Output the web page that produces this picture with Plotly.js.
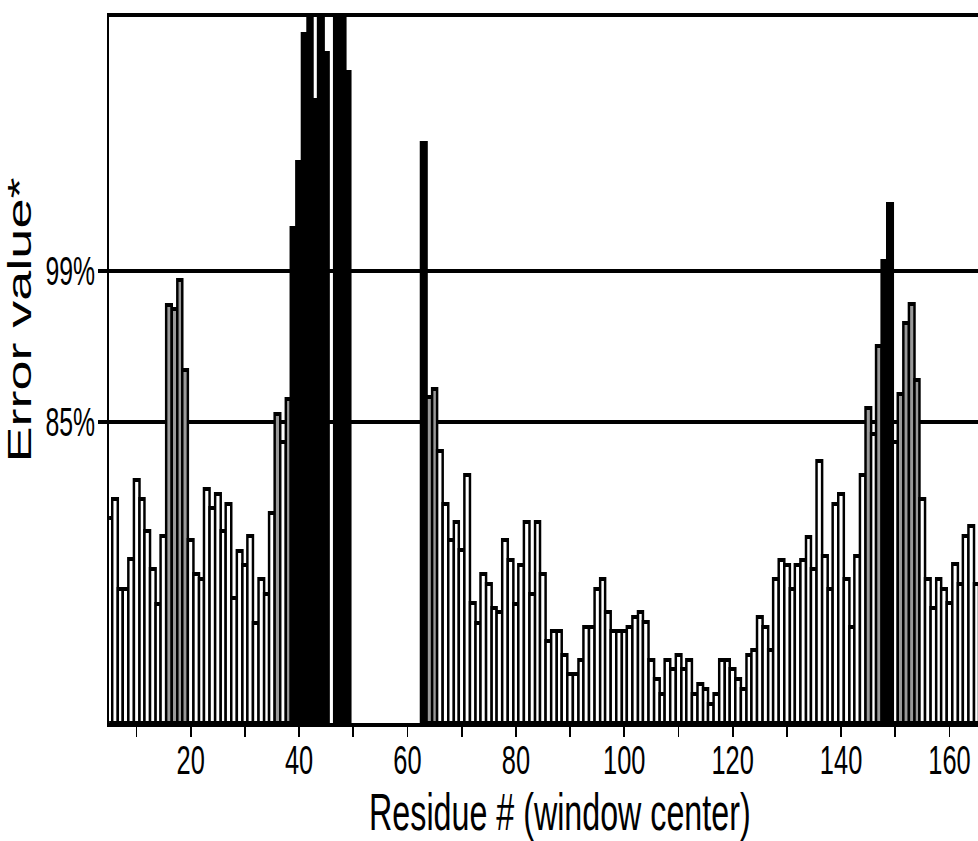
<!DOCTYPE html>
<html><head><meta charset="utf-8">
<script src="https://cdn.plot.ly/plotly-3.0.1.min.js"></script>
<style>
html,body{margin:0;padding:0;overflow:hidden;background:#fff;width:978px;height:841px;}
#chart{width:1630px;height:841px;transform:scaleX(0.62);transform-origin:0 0;}
</style></head><body><div id="chart"></div>
<script>
// Residue numbers (window centres)
const residues = [5,6,7,8,9,10,11,12,13,14,15,16,17,18,19,20,21,22,23,24,25,26,27,28,29,30,
31,32,33,34,35,36,37,38,39,40,41,42,43,44,45,46,47,48,49,50,51,52,53,54,55,56,57,58,59,60,
61,62,63,64,65,66,67,68,69,70,71,72,73,74,75,76,77,78,79,80,81,82,83,84,85,86,87,88,89,90,
91,92,93,94,95,96,97,98,99,100,101,102,103,104,105,106,107,108,109,110,111,112,113,114,115,
116,117,118,119,120,121,122,123,124,125,126,127,128,129,130,131,132,133,134,135,136,137,138,
139,140,141,142,143,144,145,146,147,148,149,150,151,152,153,154,155,156,157,158,159,160,161,
162,163,164,165];

// Error value (arbitrary units; bars above the frame are clipped)
const errorValue = [205,224,134,134,164,243,224,192,154,119,187,
418,414,443,353,
183,149,144,234,215,229,192,219,125,172,158,187,100,144,129,210,
309,281,324,
495,561,689,760,623,760,670,null,760,760,651,
null,null,null,null,null,null,null,null,null,null,null,null,null,
580,326,334,
272,219,183,201,173,248,120,100,149,139,115,111,183,163,119,158,201,129,201,149,
82,92,92,68,49,49,63,96,96,134,144,111,92,92,92,96,106,111,101,63,44,
29,63,54,68,54,63,29,39,34,19,29,63,63,54,44,34,68,73,106,96,73,
144,163,158,134,158,163,186,154,262,167,134,219,229,144,96,167,248,
315,289,377,462,519,281,329,400,419,343,
224,144,115,144,134,120,159,139,187,197,139];

// Significance class of each window: w = below, g = intermediate, b = highest (run lengths)
const significanceRuns = [['w',11],['g',4],['w',16],['g',1],['w',1],['g',1],['b',11],['w',13],
['b',1],['g',2],['w',79],['g',1],['w',1],['g',1],['b',2],['w',1],['g',4],['w',11]];

// Threshold lines on the y axis
const thresholdValues = [301, 452.5];
const thresholdLabels = ['85%', '99%'];

// x ticks
const xTickVals = [10,20,30,40,50,60,70,80,90,100,110,120,130,140,150,160,170];
const xTickText = ['','20','','40','','60','','80','','100','','120','','140','','160',''];

const fillFor = {w:'#ffffff', g:'#999999', b:'#000000'};
const significance = [];
significanceRuns.forEach(([c,n]) => { for (let i=0;i<n;i++) significance.push(c); });
const colors = significance.map(c => fillFor[c]);

const FONT = 'Liberation Sans, Arial, Helvetica, sans-serif';

const trace = {
  type:'bar', x:residues, y:errorValue, width:1,
  marker:{color:colors, line:{color:'#000', width:4}},
  hoverinfo:'x+y'
};

const layout = {
  width:1630, height:841,
  margin:{l:176, r:0, t:17, b:118},
  paper_bgcolor:'#fff', plot_bgcolor:'#fff',
  bargap:0, showlegend:false,
  font:{family:FONT, color:'#000'},
  xaxis:{
    range:[4.95,171.28], showline:true, linewidth:4, linecolor:'#000', mirror:true,
    ticks:'outside', ticklen:10, tickwidth:3.2, tickcolor:'#000',
    tickmode:'array', tickvals:xTickVals, ticktext:xTickText,
    tickfont:{size:41, family:FONT, color:'#000'}, ticklabelstandoff:-12,
    showgrid:false, zeroline:false,
    title:{text:'Residue # (window center)', font:{size:52, family:FONT, color:'#000'}, standoff:8}
  },
  yaxis:{
    range:[0,706], showline:true, linewidth:4.4, linecolor:'#000',
    ticks:'outside', ticklen:13.5, tickwidth:4, tickcolor:'#000',
    tickmode:'array', tickvals:thresholdValues, ticktext:thresholdLabels,
    tickfont:{size:40, family:FONT, color:'#000'}, ticklabelstandoff:-3,
    showgrid:true, gridcolor:'#000', gridwidth:4, zeroline:false
  },
  annotations:[{
    text:'Error value*', textangle:-90, xref:'paper', yref:'paper',
    x:-0.1, y:0.5708, xanchor:'center', yanchor:'middle', showarrow:false,
    font:{size:54, family:FONT, color:'#000'}
  }]
};

Plotly.newPlot('chart', [trace], layout, {displayModeBar:false, responsive:false});
</script></body></html>
